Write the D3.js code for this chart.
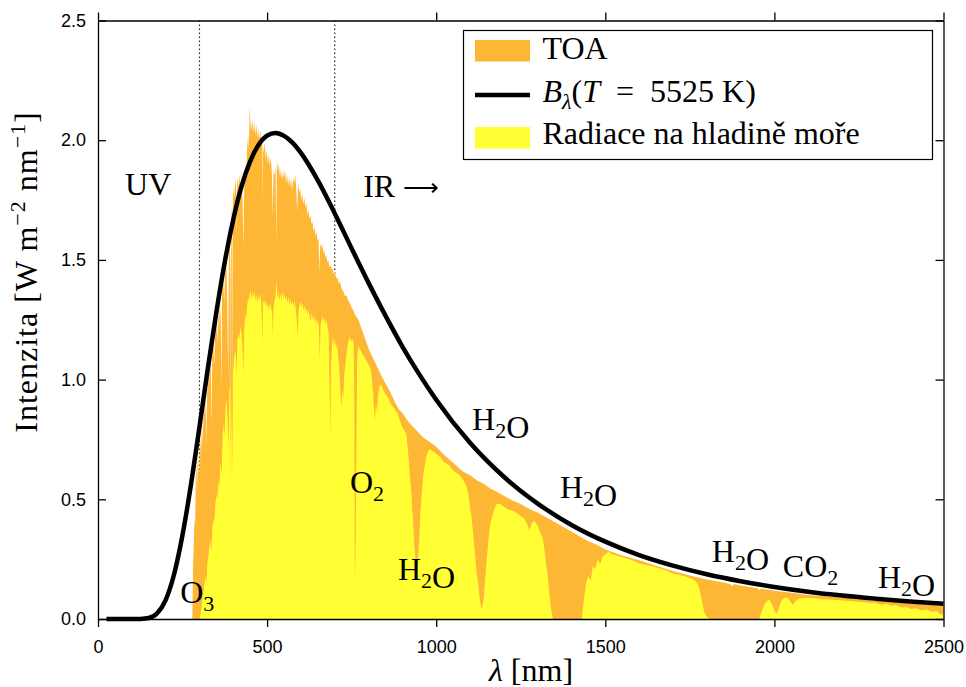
<!DOCTYPE html>
<html>
<head>
<meta charset="utf-8">
<script src="https://cdn.jsdelivr.net/npm/d3@7"></script>
<style>
  html, body { margin: 0; padding: 0; background: #fff; }
  svg { display: block; }
  .serif { font-family: "Liberation Serif", "Times New Roman", serif; fill: #000; }
  .tick text { font-family: "Liberation Sans", Arial, sans-serif; font-size: 18px; fill: #000; }
</style>
</head>
<body>
<svg id="chart" width="966" height="687"></svg>
<script>
/* Solar spectrum: TOA vs sea level vs blackbody 5525 K
   values, [wavelength nm, W m^-2 nm^-1] */

const xTicks = [0, 500, 1000, 1500, 2000, 2500];
const yTicks = [0, 0.5, 1.0, 1.5, 2.0, 2.5];
const regionLines = [300, 700];   // UV | visible | IR borders

const toa = [
  [279,0],[281,0.22],[283,0.30],[285,0.42],[287,0.38],[289,0.58],[291,0.66],[293,0.52],[295,0.68],[297,0.60],
  [299,0.74],[301,0.58],[303,0.76],[305,0.70],[307,0.82],[309,0.72],[311,0.88],[313,0.80],[315,0.92],[317,0.84],
  [319,0.96],[321,0.70],[323,1.00],[325,0.94],[327,1.06],[329,0.98],[331,1.12],[334,1.02],[336,0.80],[338,1.14],
  [341,1.18],[344,1.05],[347,1.22],[350,1.27],[353,1.15],[356,1.30],[358,1.20],[360,1.34],[363,1.25],[365,0.95],
  [367,1.40],[370,1.44],[373,1.32],[376,1.48],[379,1.52],[382,1.35],[385,1.00],[387,1.55],[390,1.58],[392,1.40],
  [393,0.75],[394,1.62],[396,1.75],[397,0.85],[398,1.70],[400,1.80],[403,1.76],[406,1.84],[409,1.78],[410,1.60],
  [412,1.85],[415,1.80],[418,1.86],[421,1.79],[424,1.87],[427,1.76],[430,1.55],[432,1.80],[435,1.90],[438,1.84],
  [441,1.97],[444,2.02],[446,1.95],[448,2.12],[449,2.14],[450,2.03],[452,2.10],[454,2.04],[456,2.09],[459,2.03],
  [462,2.08],[465,2.02],[468,2.07],[471,2.01],[474,2.05],[477,2.00],[480,2.04],[483,1.98],[485,2.00],[486,1.72],
  [487,1.98],[490,1.95],[493,1.99],[496,1.92],[499,1.96],[502,1.90],[505,1.94],[508,1.89],[511,1.93],[514,1.86],
  [517,1.68],[519,1.88],[522,1.85],[525,1.90],[527,1.55],[529,1.92],[532,1.87],[535,1.90],[538,1.84],[541,1.88],
  [544,1.83],[547,1.87],[550,1.84],[553,1.88],[556,1.82],[559,1.86],[562,1.81],[565,1.85],[568,1.80],[571,1.84],
  [574,1.79],[577,1.84],[580,1.82],[583,1.86],[586,1.80],[589,1.70],[592,1.82],[595,1.78],[598,1.80],[601,1.75],
  [604,1.78],[607,1.73],[610,1.76],[613,1.72],[616,1.74],[619,1.69],[622,1.71],[625,1.67],[628,1.69],[631,1.65],
  [634,1.66],[637,1.62],[640,1.64],[643,1.60],[646,1.62],[649,1.58],[652,1.59],[655,1.45],[657,1.57],[660,1.55],
  [663,1.57],[666,1.53],[669,1.54],[672,1.51],[675,1.52],[678,1.49],[681,1.50],[684,1.47],[687,1.48],[690,1.46],
  [693,1.47],[696,1.44],[700,1.45],[704,1.42],[708,1.43],[712,1.40],[716,1.41],[720,1.38],[725,1.37],[730,1.35],
  [735,1.35],[740,1.33],[745,1.32],[750,1.30],[755,1.29],[760,1.27],[765,1.26],[770,1.25],[775,1.23],[780,1.21],
  [785,1.19],[790,1.17],[795,1.15],[800,1.13],[810,1.10],[820,1.07],[830,1.04],[840,1.01],[850,0.985],[860,0.96],
  [870,0.93],[880,0.90],[890,0.875],[900,0.86],[910,0.84],[920,0.82],[930,0.805],[940,0.79],[950,0.775],[960,0.76],
  [970,0.75],[980,0.74],[990,0.73],[1000,0.72],[1020,0.69],[1040,0.665],[1060,0.64],[1080,0.615],[1100,0.60],
  [1120,0.58],[1140,0.565],[1160,0.545],[1180,0.53],[1200,0.515],[1225,0.495],[1250,0.48],[1275,0.46],[1300,0.445],
  [1325,0.425],[1350,0.405],[1375,0.385],[1400,0.365],[1425,0.345],[1450,0.325],[1475,0.31],[1500,0.29],[1550,0.265],
  [1600,0.245],[1650,0.222],[1700,0.20],[1750,0.182],[1800,0.165],[1850,0.152],[1870,0.145],[1875,0.138],[1880,0.146],
  [1900,0.14],[1950,0.128],[1955,0.12],[1960,0.127],[2000,0.118],[2050,0.11],[2100,0.10],[2150,0.095],[2200,0.09],
  [2250,0.085],[2300,0.078],[2350,0.072],[2400,0.066],[2450,0.06],[2500,0.055]
];

const seaLevel = [
  [300,0],[303,0.02],[306,0.05],[309,0.08],[312,0.11],[315,0.15],[318,0.18],[321,0.15],[323,0.23],[326,0.26],
  [329,0.30],[332,0.33],[335,0.28],[338,0.38],[341,0.42],[344,0.40],[347,0.48],[350,0.52],[353,0.50],[356,0.58],
  [359,0.55],[362,0.66],[365,0.60],[368,0.74],[371,0.82],[374,0.76],[377,0.88],[380,0.92],[383,0.84],[386,0.70],
  [388,0.95],[391,0.98],[393,0.55],[395,0.96],[397,0.60],[399,1.02],[402,1.08],[405,1.12],[408,1.10],[410,1.00],
  [412,1.16],[415,1.19],[418,1.17],[421,1.22],[424,1.20],[427,1.14],[430,1.02],[432,1.20],[435,1.27],[438,1.25],
  [441,1.31],[444,1.34],[447,1.33],[450,1.38],[453,1.33],[456,1.37],[459,1.34],[462,1.37],[465,1.33],[468,1.36],
  [471,1.32],[474,1.35],[477,1.33],[480,1.36],[483,1.32],[486,1.15],[488,1.32],[491,1.34],[494,1.31],[497,1.33],
  [500,1.30],[503,1.32],[506,1.29],[509,1.32],[512,1.30],[515,1.28],[517,1.18],[519,1.30],[522,1.33],[525,1.35],
  [528,1.42],[530,1.34],[533,1.37],[536,1.33],[539,1.36],[542,1.33],[545,1.37],[548,1.34],[551,1.36],[554,1.33],
  [557,1.35],[560,1.32],[563,1.35],[566,1.31],[569,1.34],[572,1.31],[575,1.33],[578,1.30],[581,1.33],[584,1.30],
  [587,1.27],[590,1.18],[593,1.29],[596,1.31],[599,1.33],[602,1.30],[605,1.32],[608,1.29],[611,1.31],[614,1.28],
  [617,1.30],[620,1.27],[623,1.29],[626,1.26],[629,1.24],[632,1.28],[635,1.25],[638,1.27],[641,1.24],[644,1.26],
  [647,1.23],[650,1.25],[653,1.22],[656,1.08],[658,1.23],[661,1.25],[664,1.27],[667,1.24],[670,1.26],[673,1.23],
  [676,1.25],[679,1.22],[682,1.20],[685,0.95],[687,0.75],[689,1.05],[692,1.15],[695,1.18],[698,1.14],[701,1.17],
  [704,1.13],[707,1.15],[710,1.10],[713,1.05],[716,0.98],[719,0.88],[722,0.95],[725,0.92],[728,1.02],[731,1.06],
  [734,1.10],[737,1.13],[740,1.16],[744,1.18],[748,1.16],[752,1.17],[756,1.15],[758,0.90],[759,0.30],[760,0.15],
  [762,0.35],[764,0.70],[766,1.08],[769,1.14],[773,1.13],[777,1.12],[781,1.11],[785,1.10],[789,1.09],[793,1.08],
  [797,1.07],[801,1.06],[805,1.05],[809,1.02],[813,0.95],[816,0.88],[819,0.83],[822,0.90],[825,0.86],[828,0.94],
  [832,0.97],[836,0.98],[840,0.97],[845,0.95],[850,0.94],[855,0.93],[860,0.92],[865,0.90],[870,0.89],[875,0.88],
  [880,0.87],[885,0.86],[890,0.84],[895,0.82],[900,0.80],[905,0.79],[912,0.77],[918,0.68],[922,0.60],[927,0.52],
  [931,0.42],[935,0.32],[938,0.26],[941,0.22],[944,0.20],[947,0.26],[950,0.34],[953,0.44],[957,0.52],[961,0.59],
  [966,0.64],[971,0.68],[976,0.70],[981,0.71],[990,0.70],[1000,0.69],[1010,0.68],[1020,0.66],[1030,0.65],[1040,0.64],
  [1050,0.62],[1060,0.61],[1070,0.60],[1080,0.58],[1088,0.56],[1094,0.53],[1100,0.47],[1105,0.42],[1109,0.36],
  [1114,0.28],[1119,0.20],[1124,0.15],[1129,0.08],[1134,0.04],[1139,0.07],[1144,0.15],[1150,0.26],[1155,0.34],
  [1160,0.40],[1170,0.45],[1178,0.48],[1190,0.48],[1200,0.47],[1210,0.46],[1220,0.455],[1230,0.45],[1240,0.44],
  [1250,0.43],[1260,0.42],[1268,0.40],[1276,0.37],[1282,0.40],[1290,0.41],[1300,0.39],[1308,0.36],[1315,0.34],
  [1320,0.29],[1325,0.23],[1330,0.18],[1335,0.10],[1340,0.04],[1345,0],[1430,0],[1435,0.06],[1443,0.15],[1450,0.18],
  [1457,0.16],[1463,0.22],[1470,0.21],[1478,0.25],[1485,0.23],[1492,0.26],[1500,0.27],[1510,0.28],[1520,0.27],
  [1540,0.262],[1560,0.255],[1580,0.245],[1600,0.232],[1620,0.226],[1640,0.22],[1660,0.212],[1680,0.203],[1700,0.19],
  [1720,0.184],[1740,0.176],[1760,0.165],[1770,0.155],[1778,0.13],[1785,0.08],[1792,0.03],[1800,0.01],[1808,0],
  [1955,0],[1962,0.03],[1970,0.06],[1978,0.075],[1985,0.08],[1992,0.065],[2000,0.035],[2006,0.02],[2012,0.04],
  [2020,0.075],[2030,0.09],[2040,0.088],[2048,0.07],[2055,0.06],[2062,0.075],[2072,0.085],[2085,0.088],[2100,0.088],
  [2120,0.086],[2140,0.083],[2160,0.081],[2180,0.079],[2200,0.077],[2220,0.075],[2240,0.073],[2260,0.071],[2280,0.068],
  [2300,0.066],[2320,0.06],[2330,0.064],[2345,0.055],[2360,0.058],[2375,0.048],[2390,0.05],[2405,0.042],[2420,0.045],
  [2435,0.035],[2450,0.04],[2465,0.03],[2480,0.033],[2490,0.02],[2500,0.018]
];

const blackbody = [
  [25,0],[50,0],[75,0],[100,0],[125,0.0005],[150,0.004],[175,0.024],[200,0.079],[225,0.187],[250,0.352],
  [275,0.562],[300,0.802],[325,1.049],[350,1.282],[375,1.493],[400,1.669],[425,1.81],[450,1.912],[475,1.981],
  [500,2.019],[525,2.03],[550,2.018],[575,1.99],[600,1.947],[650,1.832],[700,1.694],[750,1.548],[800,1.404],
  [850,1.267],[900,1.138],[950,1.022],[1000,0.916],[1100,0.736],[1200,0.594],[1300,0.482],[1400,0.393],
  [1500,0.323],[1600,0.267],[1700,0.223],[1800,0.187],[1900,0.158],[2000,0.134],[2100,0.114],[2200,0.098],
  [2300,0.085],[2400,0.0735],[2500,0.064]
];

// annotation texts, anchored in data units [nm, intensity]; "_" marks a subscript
const notes = [
  { text: 'UV', at: [80, 1.77] },
  { text: 'IR \u27f6', at: [784, 1.763] },
  { text: 'O_3', at: [243, 0.067] },
  { text: 'O_2', at: [745, 0.526] },
  { text: 'H_2O', at: [887, 0.163] },
  { text: 'H_2O', at: [1106, 0.789] },
  { text: 'H_2O', at: [1366, 0.505] },
  { text: 'H_2O', at: [1815, 0.238] },
  { text: 'CO_2', at: [2025, 0.175] },
  { text: 'H_2O', at: [2306, 0.129] }
];

const ORANGE = '#fdb734';
const YELLOW = '#ffff33';

const svg = d3.select('#chart');
const mLeft = 98, mRight = 943.5, mTop = 20.5, mBottom = 619;

const x = d3.scaleLinear().domain([0, 2500]).range([mLeft, mRight]);
const y = d3.scaleLinear().domain([0, 2.5]).range([mBottom, mTop]);

/* ---------- region borders (drawn under the fills) ---------- */
svg.append('g').selectAll('line').data(regionLines).join('line')
  .attr('x1', d => x(d)).attr('x2', d => x(d))
  .attr('y1', y(2.5)).attr('y2', y(0))
  .attr('stroke', '#222').attr('stroke-width', 1.2)
  .attr('stroke-dasharray', '1.4,2.6');

/* ---------- spectra ---------- */
const area = d3.area()
  .x(d => x(d[0]))
  .y0(y(0))
  .y1(d => y(d[1]));

svg.append('path').datum(toa).attr('d', area).attr('fill', ORANGE);
svg.append('path').datum(seaLevel).attr('d', area).attr('fill', YELLOW);

const line = d3.line()
  .x(d => x(d[0]))
  .y(d => y(d[1]))
  .curve(d3.curveMonotoneX);

svg.append('path').datum(blackbody).attr('d', line)
  .attr('fill', 'none').attr('stroke', '#000')
  .attr('stroke-width', 4.5).attr('stroke-linejoin', 'round');

/* ---------- annotations ---------- */
function richText(sel, str, size) {
  // "_c" -> subscript character; long arrow drawn a bit smaller
  const sub = Math.round(size * 0.7);
  for (let i = 0; i < str.length; i++) {
    if (str[i] === '_') {
      sel.append('tspan').attr('font-size', sub).attr('dy', 8).text(str[i + 1]);
      sel.append('tspan').attr('dy', -8).text('');
      i++;
    } else if (str[i] === '\u27f6') {
      sel.append('tspan').attr('font-size', 25).attr('dy', -1).text(str[i]);
    } else {
      sel.append('tspan').text(str[i]);
    }
  }
}

notes.forEach(n => {
  const t = svg.append('text').attr('class', 'serif')
    .attr('x', x(n.at[0])).attr('y', y(n.at[1]))
    .attr('font-size', 32);
  richText(t, n.text, 32);
});

/* ---------- axes / frame ---------- */
function styleAxis(g) {
  g.selectAll('path.domain').attr('stroke', '#000').attr('stroke-width', 1.3);
  g.selectAll('.tick line').attr('stroke', '#000').attr('stroke-width', 1.3);
}

svg.append('g').attr('transform', `translate(0,${mBottom})`)
  .call(d3.axisBottom(x).tickValues(xTicks).tickSize(8).tickSizeOuter(0).tickPadding(13)
    .tickFormat(d3.format('d')))
  .call(styleAxis);

svg.append('g').attr('transform', `translate(0,${mTop})`)
  .call(d3.axisTop(x).tickValues(xTicks).tickSize(8).tickSizeOuter(0).tickFormat(''))
  .call(styleAxis);

svg.append('g').attr('transform', `translate(${mLeft},0)`)
  .call(d3.axisLeft(y).tickValues(yTicks).tickSize(-8).tickSizeOuter(0).tickPadding(12)
    .tickFormat(d3.format('.1f')))
  .call(styleAxis);

svg.append('g').attr('transform', `translate(${mRight},0)`)
  .call(d3.axisRight(y).tickValues(yTicks).tickSize(-8).tickSizeOuter(0).tickFormat(''))
  .call(styleAxis);

svg.selectAll('.tick text').attr('font-family', '"Liberation Sans", Arial, sans-serif')
  .attr('font-size', 18).attr('fill', '#000');

/* ---------- axis titles ---------- */
const yTitle = svg.append('text').attr('class', 'serif')
  .attr('transform', 'translate(37,272) rotate(-90)')
  .attr('text-anchor', 'middle').attr('font-size', 32)
  .attr('letter-spacing', 1);
yTitle.append('tspan').text('Intenzita [W m');
yTitle.append('tspan').attr('font-size', 22).attr('dy', -12).text('\u22122');
yTitle.append('tspan').attr('dy', 12).text(' nm');
yTitle.append('tspan').attr('font-size', 22).attr('dy', -12).text('\u22121');
yTitle.append('tspan').attr('dy', 12).text(']');

const xTitle = svg.append('text').attr('class', 'serif')
  .attr('x', 531).attr('y', 681).attr('text-anchor', 'middle').attr('font-size', 32);
xTitle.append('tspan').attr('font-style', 'italic').text('\u03bb');
xTitle.append('tspan').text(' [nm]');

/* ---------- legend ---------- */
const lg = svg.append('g').attr('transform', 'translate(463.5,30.5)');
lg.append('rect').attr('width', 469).attr('height', 129)
  .attr('fill', '#fff').attr('stroke', '#000').attr('stroke-width', 1.2);

lg.append('rect').attr('x', 11.5).attr('y', 9.5).attr('width', 55).attr('height', 21.5).attr('fill', ORANGE);
lg.append('line').attr('x1', 11.5).attr('x2', 66.5).attr('y1', 64.5).attr('y2', 64.5)
  .attr('stroke', '#000').attr('stroke-width', 4.5);
lg.append('rect').attr('x', 11.5).attr('y', 96.5).attr('width', 55).attr('height', 21.5).attr('fill', YELLOW);

lg.append('text').attr('class', 'serif').attr('x', 79).attr('y', 28).attr('font-size', 32).text('TOA');

const bt = lg.append('text').attr('class', 'serif').attr('x', 79).attr('y', 71.5).attr('font-size', 32);
bt.append('tspan').attr('font-style', 'italic').text('B');
bt.append('tspan').attr('font-style', 'italic').attr('font-size', 22).attr('dy', 7).text('\u03bb');
bt.append('tspan').attr('dy', -7).text('(');
bt.append('tspan').attr('font-style', 'italic').text('T');
bt.append('tspan').text('\u2002=\u20025525 K)');

lg.append('text').attr('class', 'serif').attr('x', 79).attr('y', 113.5).attr('font-size', 32)
  .text('Radiace na hladin\u011b mo\u0159e');
</script>
</body>
</html>
